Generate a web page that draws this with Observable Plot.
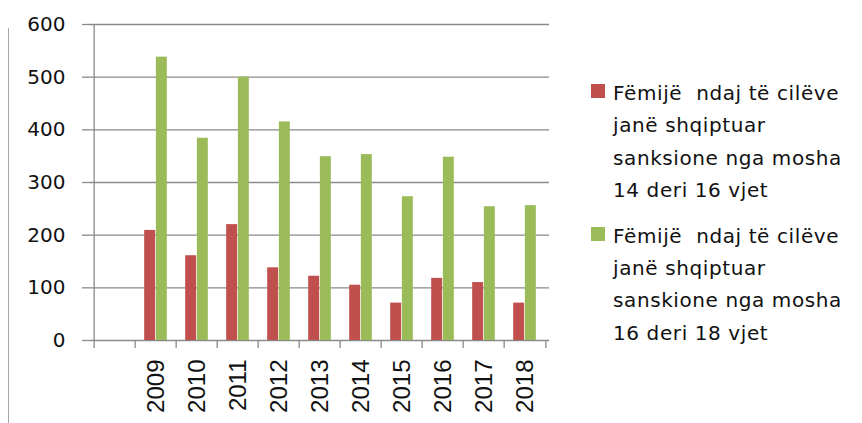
<!DOCTYPE html>
<html>
<head>
<meta charset="utf-8">
<script src="https://cdn.jsdelivr.net/npm/d3@7"></script>
<script src="https://cdn.jsdelivr.net/npm/@observablehq/plot@0.6"></script>
<style>
  html, body { margin: 0; padding: 0; background: #fff; }
  #wrap { position: relative; width: 862px; height: 423px; overflow: hidden; }
  #edge { position: absolute; left: 8px; top: 28px; width: 0; height: 400px; border-left: 1.4px solid #a6a6a6; }
  #chart { position: absolute; left: 0; top: 0; }
  #legend { position: absolute; left: 591px; top: 77px; width: 262px;
    font-family: "DejaVu Sans", sans-serif; font-size: 20px; letter-spacing: 0.6px; color: #111; }
  .item { display: flex; align-items: flex-start; margin-bottom: 13.5px; }
  .sw { width: 14px; height: 14px; flex: none; margin-top: 7px; margin-right: 8px; }
  .lab { line-height: 32.3px; white-space: pre-wrap; width: 240px; }
</style>
</head>
<body>
<div id="wrap">
  <div id="edge"></div>
  <div id="chart"></div>
  <div id="legend"></div>
</div>
<script>
// ---- data ----
const years = ["2009", "2010", "2011", "2012", "2013", "2014", "2015", "2016", "2017", "2018"];
const age14to16 = [209, 161, 220, 138, 122, 105, 71, 118, 110, 71];
const age16to18 = [538, 384, 500, 415, 349, 353, 273, 348, 254, 256];
const seriesNames = [
  "Fëmijë  ndaj të cilëve janë shqiptuar sanksione nga mosha 14 deri 16 vjet",
  "Fëmijë  ndaj të cilëve janë shqiptuar sanskione nga mosha 16 deri 18 vjet"
];
const seriesColors = ["#C0504D", "#9BBB59"];
const yTicks = [0, 100, 200, 300, 400, 500, 600];

// categories: an empty slot precedes the first year, as in the original
const categories = ["", ...years];

const W = 560, H = 423, ML = 90, MR = 11, MT = 24, MB = 83;
const step = (W - ML - MR) / categories.length;
const barW = step * 0.28;
const side = (step - 2 * barW) / 2;

const rows1 = years.map((y, i) => ({year: y, value: age14to16[i]}));
const rows2 = years.map((y, i) => ({year: y, value: age16to18[i]}));

const grey = "#8a8a8a";

const plot = Plot.plot({
  width: W,
  height: H,
  marginLeft: ML,
  marginRight: MR,
  marginTop: MT,
  marginBottom: MB,
  x: {domain: categories, padding: 0, axis: null},
  y: {domain: [0, 600], axis: null},
  marks: [
    Plot.gridY(yTicks, {stroke: grey, strokeOpacity: 1, strokeWidth: 1.3}),
    Plot.barY(rows1, {x: "year", y: "value", fill: seriesColors[0], insetLeft: side, insetRight: side + barW}),
    Plot.barY(rows2, {x: "year", y: "value", fill: seriesColors[1], insetLeft: side + barW, insetRight: side}),
    // vertical value axis line at the left edge of the first category
    Plot.ruleX([categories[0]], {dx: -step / 2, stroke: grey, strokeWidth: 1.3}),
    Plot.axisY({ticks: yTicks, tickSize: 8, tickPadding: 17, stroke: grey, strokeWidth: 1.3,
      fontSize: 20, fontFamily: "DejaVu Sans", fill: "#111", label: null}),
    // tick marks at the category boundaries
    Plot.axisX({ticks: categories, tickSize: 8, tickFormat: () => "", dx: -step / 2, stroke: grey, strokeWidth: 1.3, label: null}),
    Plot.axisX({ticks: [years[years.length - 1]], tickSize: 8, tickFormat: () => "", dx: step / 2, stroke: grey, strokeWidth: 1.3, label: null}),
    // rotated year labels
    Plot.axisX({ticks: years, tickSize: 0, tickRotate: -90, tickPadding: 19, fontSize: 24,
      fontFamily: "Liberation Sans", fill: "#111", label: null})
  ]
});
document.getElementById("chart").appendChild(plot);

const legend = document.getElementById("legend");
seriesNames.forEach((name, i) => {
  const item = document.createElement("div");
  item.className = "item";
  const sw = document.createElement("div");
  sw.className = "sw";
  sw.style.background = seriesColors[i];
  const lab = document.createElement("div");
  lab.className = "lab";
  lab.textContent = name;
  item.appendChild(sw);
  item.appendChild(lab);
  legend.appendChild(item);
});
</script>
</body>
</html>
